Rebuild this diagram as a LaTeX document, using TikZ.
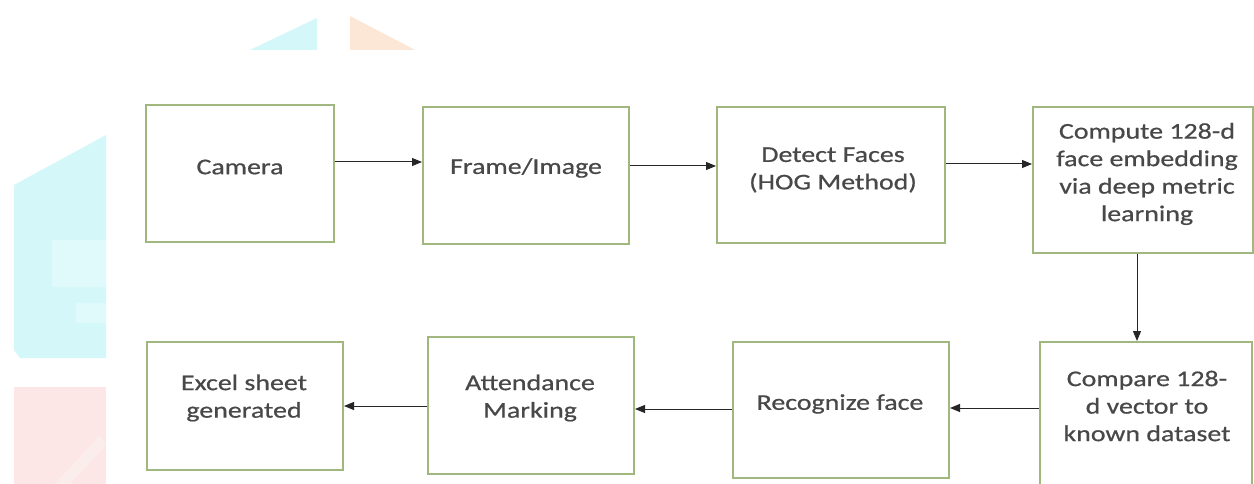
\documentclass[tikz,border=0pt]{standalone}
\usepackage{fontspec}
\setmainfont[FakeStretch=1.24,FakeBold=0.6]{Carlito}
\usetikzlibrary{arrows.meta}
\definecolor{boxc}{RGB}{160,184,125}
\definecolor{txtc}{RGB}{72,72,72}
\definecolor{wmcyan}{RGB}{212,247,250}
\definecolor{wmpink}{RGB}{252,230,230}
\definecolor{wmorange}{RGB}{252,230,214}
\begin{document}
\begin{tikzpicture}[x=1pt,y=-1pt,
  box/.style={draw=boxc,line width=2pt,fill=white,rectangle,inner sep=0pt},
  lbl/.style={text=txtc,font=\fontsize{22.5}{27.5}\selectfont,align=center,inner sep=0pt},
  arr/.style={draw=black!85,line width=1pt,-{Triangle[length=10pt,width=8pt]}}]
\useasboundingbox (0,0) rectangle (1254,484);
\clip (0,0) rectangle (1254,484);
\fill[white] (0,0) rectangle (1254,484);
% faint watermark remnants
\fill[wmcyan] (14,185) -- (106,135) -- (106,358) -- (20,358) -- (14,350) -- cycle;
\fill[white,opacity=0.3] (52,240) rectangle (106,287);
\fill[white,opacity=0.3] (76,303) rectangle (106,323);
\fill[wmpink] (14,387) rectangle (106,484);
\fill[white,opacity=0.3] (55,484) -- (100,435) -- (106,445) -- (70,484) -- cycle;
\fill[wmcyan] (250,50) -- (317,18) -- (317,50) -- cycle;
\fill[wmorange] (350,16) -- (415,50) -- (350,50) -- cycle;
% boxes
\node[box,minimum width=188pt,minimum height=137pt] (cam) at (240,173.5) {};
\node[box,minimum width=206pt,minimum height=137pt] (frame) at (526,175.5) {};
\node[box,minimum width=228pt,minimum height=136pt] (detect) at (831,175) {};
\node[box,minimum width=220pt,minimum height=146pt] (compute) at (1143,180) {};
\node[box,minimum width=196pt,minimum height=128pt] (excel) at (245,406) {};
\node[box,minimum width=206pt,minimum height=137pt] (attend) at (531,405.5) {};
\node[box,minimum width=216pt,minimum height=136pt] (recog) at (841,410) {};
\node[box,minimum width=212pt,minimum height=160pt] (compare) at (1146,422) {};
% labels
\node[lbl] (tcam) at (240,167) {Camera};
\node[lbl] (tframe) at (526,168) {Frame/Image};
\node[lbl] (tdetect) at (833,170) {Detect Faces\\(HOG Method)};
\node[lbl] (tcompute) at (1147,174) {Compute 128-d\\face embedding\\via deep metric\\learning};
\node[lbl] (texcel) at (244,398) {Excel sheet\\generated};
\node[lbl] (tattend) at (530,398) {Attendance\\Marking};
\node[lbl] (trecog) at (840,404) {Recognize face};
\node[lbl] (tcompare) at (1147,406) {Compare 128-\\d vector to\\known dataset};
% connector heights
\coordinate (y1) at (0,162);
\coordinate (y2) at (0,166);
\coordinate (y3) at (0,164);
\coordinate (y4) at (0,408);
\coordinate (y5) at (0,409);
\coordinate (y6) at (0,406);
\coordinate (xv) at (1137,0);
\draw[arr] (cam.east |- y1) -- (frame.west |- y1);
\draw[arr] (frame.east |- y2) -- (detect.west |- y2);
\draw[arr] (detect.east |- y3) -- (compute.west |- y3);
\draw[arr] (compute.south -| xv) -- (compare.north -| xv);
\draw[arr] (compare.west |- y4) -- (recog.east |- y4);
\draw[arr] (recog.west |- y5) -- (attend.east |- y5);
\draw[arr] (attend.west |- y6) -- (excel.east |- y6);
\end{tikzpicture}
\end{document}
